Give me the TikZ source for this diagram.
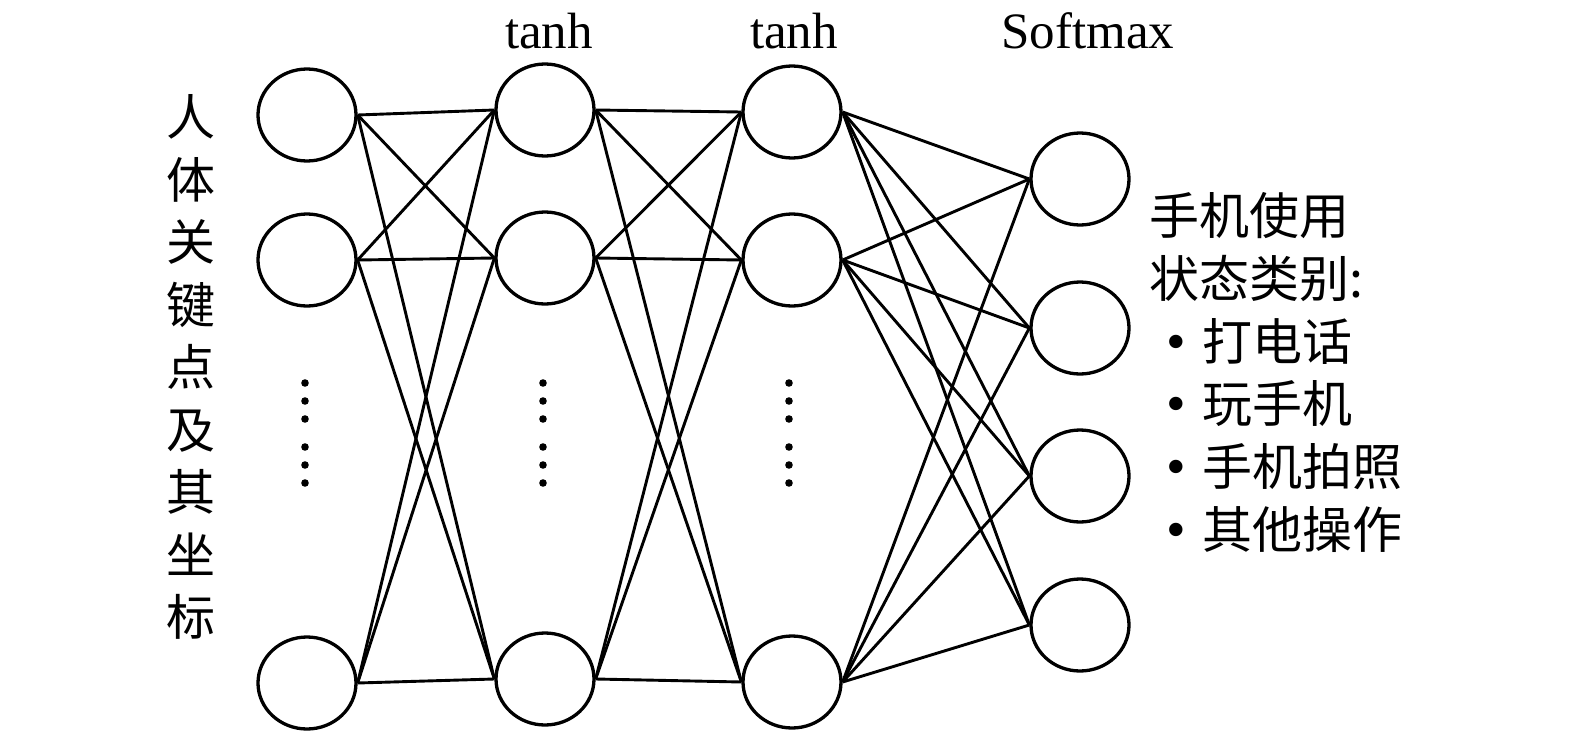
\documentclass[tikz,border=0pt]{standalone}
\usepackage{fontspec}
\setmainfont{Liberation Serif}
\newfontfamily\cjk{Noto Sans CJK SC}
\usetikzlibrary{shapes.geometric}
\begin{document}
\begin{tikzpicture}[x=1pt,y=-1pt,
  neuron/.style={draw, line width=3.3pt, ellipse, minimum width=98pt, minimum height=92pt, inner sep=0pt},
  link/.style={line width=2.9pt},
  dotmark/.style={fill=black},
  lbl/.style={font=\fontsize{51}{60}\selectfont, inner sep=0pt, anchor=base},
  cjktext/.style={font=\cjk\fontsize{50}{62.5}\selectfont, inner sep=0pt, anchor=west}]
\useasboundingbox (0,0) rectangle (1575,736);
% layer 1
\node[neuron] (a1) at (307,115) {};
\node[neuron] (a2) at (307,260) {};
\node[neuron] (a3) at (307,683) {};
% layer 2
\node[neuron] (b1) at (545,110) {};
\node[neuron] (b2) at (545,258) {};
\node[neuron] (b3) at (545,679) {};
% layer 3
\node[neuron] (c1) at (792,112) {};
\node[neuron] (c2) at (792,260) {};
\node[neuron] (c3) at (792,682) {};
% softmax
\node[neuron] (d1) at (1080,179) {};
\node[neuron] (d2) at (1080,328) {};
\node[neuron] (d3) at (1080,476) {};
\node[neuron] (d4) at (1080,625) {};
% connections
\foreach \i in {1,2,3}{
  \foreach \j in {1,2,3}{
    \draw[link] (a\i.east) -- (b\j.west);
    \draw[link] (b\i.east) -- (c\j.west);
  }
  \foreach \j in {1,2,3,4}{
    \draw[link] (c\i.east) -- (d\j.west);
  }
}
% vertical dots
\foreach \x in {305,543,789}{
  \foreach \y in {383,401,419,447,465,483}{
    \fill[dotmark] (\x,\y) circle (3.8pt);
  }
}
% labels
\node[lbl] (t1) at (549,48) {tanh};
\node[lbl] (t2) at (794,48) {tanh};
\node[lbl] (t3) at (1088,48) {Softmax};
\node[font=\cjk\fontsize{49}{62.5}\selectfont, inner sep=0pt, align=center] (inp) at (191,367)
  {人\\体\\关\\键\\点\\及\\其\\坐\\标};
\node[cjktext] (o1) at (1149,216) {手机使用};
\node[cjktext] (o2) at (1149,278) {状态类别:};
\node[cjktext] (o3) at (1166,341) {{\rmfamily\fontsize{56}{60}\selectfont\textbullet}\hspace{17pt}打电话};
\node[cjktext] (o4) at (1166,404) {{\rmfamily\fontsize{56}{60}\selectfont\textbullet}\hspace{17pt}玩手机};
\node[cjktext] (o5) at (1166,467) {{\rmfamily\fontsize{56}{60}\selectfont\textbullet}\hspace{17pt}手机拍照};
\node[cjktext] (o6) at (1166,530) {{\rmfamily\fontsize{56}{60}\selectfont\textbullet}\hspace{17pt}其他操作};
\end{tikzpicture}
\end{document}
